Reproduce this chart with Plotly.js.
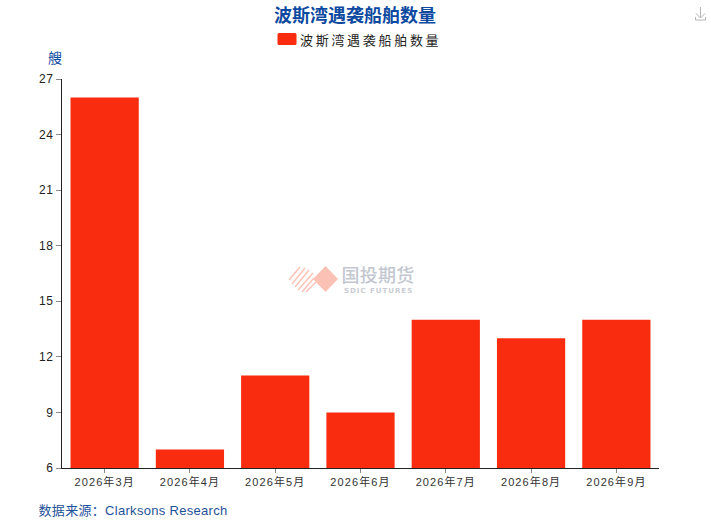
<!DOCTYPE html>
<html><head><meta charset="utf-8">
<script src="https://cdn.plot.ly/plotly-3.0.1.min.js"></script>
<style>
html,body{margin:0;padding:0;background:#fff}
.legendtext{letter-spacing:2.7px}
.legendpoints path{d:path("M-2.5,-5.5a1.5,1.5 0 0 1 1.5,-1.5H15a1.5,1.5 0 0 1 1.5,1.5V3.5a1.5,1.5 0 0 1 -1.5,1.5H-1a1.5,1.5 0 0 1 -1.5,-1.5Z")}
.xtick text{letter-spacing:1.1px}
.ytick text{letter-spacing:.6px}
.annotation[data-index="2"] text{letter-spacing:.3px}
.annotation[data-index="3"] text{letter-spacing:.3px}
.annotation[data-index="4"] text{letter-spacing:1px}
</style></head><body>
<div id="chart" style="width:711px;height:524px"></div>
<script>
const categories=["2026年3月","2026年4月","2026年5月","2026年6月","2026年7月","2026年8月","2026年9月"];
const shipCounts=[26,7,11,9,14,13,14];
const yTicks=[6,9,12,15,18,21,24,27];
const seriesName="波斯湾遇袭船舶数量";
const W=711,H=524,L=62,R=659,T=79,B=468;
const fx=x=>(x-L)/(R-L), fy=y=>(B-y)/(B-T);
const cjk='"Noto Sans CJK SC","Noto Sans",sans-serif';
const mixed='"Liberation Sans","Noto Sans CJK SC",sans-serif';
const blue='#0d4a9f';
function ann(text,x,y,size,color,anchor,extra,family){
  return {text,x:fx(x),y:fy(y),xref:'paper',yref:'paper',showarrow:false,xanchor:anchor||'left',yanchor:'middle',
    font:Object.assign({family:family||cjk,size,color},extra||{})};
}
function poly(pts,style){
  const path='M'+pts.map(p=>fx(p[0])+','+fy(p[1])).join('L')+'Z';
  return Object.assign({type:'path',xref:'paper',yref:'paper',path,line:{width:0}},style);
}
function seg(a,b,color,w){
  return {type:'line',xref:'paper',yref:'paper',x0:fx(a[0]),y0:fy(a[1]),x1:fx(b[0]),y1:fy(b[1]),line:{color,width:w}};
}
const pink='#fbc1b4';
const shapes=[
  poly([[325.5,266],[338,279],[325.5,292],[313,279]],{fillcolor:pink}),
  seg([700.5,7],[700.5,18],'#b5b5b5',1),
  seg([696,13.5],[700.5,18],'#b5b5b5',1),
  seg([705,13.5],[700.5,18],'#b5b5b5',1),
  seg([695.5,20],[705.5,20],'#b5b5b5',1),
  seg([695.5,17],[695.5,20],'#b5b5b5',1),
  seg([705.5,17],[705.5,20],'#b5b5b5',1)
];
[[289,280,300,267],[292,284,305,268],[295,287,309,270],[298,290,313,273],[302,292,314,278],[306,292,316,282]].forEach(s=>{
  shapes.push(seg([s[0],s[1]],[s[2],s[3]],pink,1.4));
});
const annotations=[
  ann(seriesName,355,14.5,18,blue,'center',{weight:700}),
  ann('艘',55,57,14,blue,'center'),
  ann('数据来源：Clarksons Research',39.5,510,13,'#1f5199','left',{},mixed),
  ann('国投期货',340,274,18,'#c3c7cf','left',{weight:500}),
  ann('SDIC FUTURES',348,290.5,7,'#c9ccd3','left',{weight:700},'"DejaVu Sans",sans-serif')
];
Plotly.newPlot('chart',[{
  type:'bar',x:categories,y:shipCounts,name:seriesName,
  marker:{color:'#fa2c0f',line:{width:0}}
}],{
  width:W,height:H,autosize:false,
  margin:{l:L,r:W-R,t:T,b:H-B,pad:0},
  paper_bgcolor:'#fff',plot_bgcolor:'#fff',
  bargap:0.2,
  showlegend:true,
  legend:{orientation:'h',x:fx(353.5),xanchor:'center',y:fy(40),yanchor:'middle',
    font:{family:cjk,size:13,color:'#222'},itemwidth:30,bgcolor:'rgba(0,0,0,0)'},
  xaxis:{type:'category',categoryorder:'array',categoryarray:categories,showgrid:false,showline:true,linecolor:'#222',linewidth:1,
    ticks:'outside',ticklen:4,tickcolor:'#888',tickwidth:1,tickfont:{family:'"Liberation Sans","Noto Sans CJK SC",sans-serif',size:11,color:'#333'},zeroline:false,fixedrange:true},
  yaxis:{range:[6,27],tickmode:'array',tickvals:yTicks,ticktext:yTicks.map(String),showgrid:false,showline:true,linecolor:'#222',linewidth:1,
    ticks:'outside',ticklen:5,tickcolor:'#888',tickwidth:1,tickfont:{family:'"Liberation Sans",sans-serif',size:12,color:'#222'},zeroline:false,fixedrange:true},
  shapes,annotations
},{displayModeBar:false,staticPlot:true});
</script></body></html>
